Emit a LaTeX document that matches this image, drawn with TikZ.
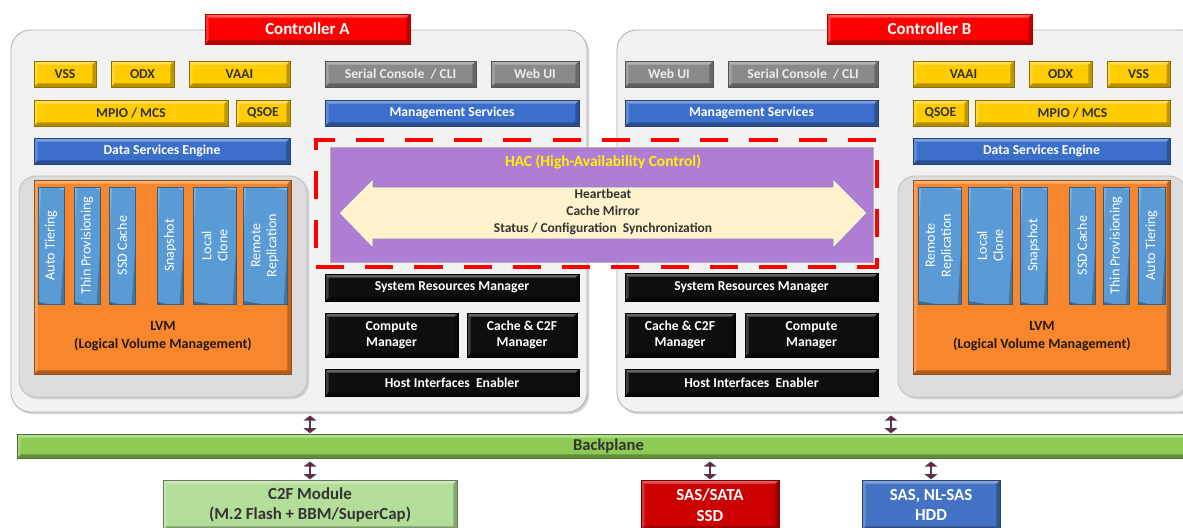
\documentclass[tikz,border=0pt]{standalone}
\usepackage{fontspec}
\setmainfont{Carlito}
\setsansfont{Carlito}
\usetikzlibrary{shadows,arrows.meta}

\definecolor{ctrlred}{HTML}{FF0000}
\definecolor{featyellow}{HTML}{FFCC00}
\definecolor{svcblue}{HTML}{3B6FCB}
\definecolor{uigray}{HTML}{8A8A8A}
\definecolor{mgrblack}{HTML}{0E0E0E}
\definecolor{lvmorange}{HTML}{F7862C}
\definecolor{volblue}{HTML}{5B9BD5}
\definecolor{hacpurple}{HTML}{B07DD5}
\definecolor{hbcream}{HTML}{FFF2CC}
\definecolor{bpgreen}{HTML}{8DCB55}
\definecolor{c2fgreen}{HTML}{B3DE99}
\definecolor{ssdred}{HTML}{CC0000}
\definecolor{hddblue}{HTML}{4472C4}
\definecolor{panelgray}{HTML}{F2F2F2}
\definecolor{lvmgray}{HTML}{DCDCDC}
\definecolor{linkred}{HTML}{C00000}
\definecolor{linkedge}{HTML}{4A3A5E}

\tikzset{
	bevel/.style={path picture={
		\fill[white,opacity=0.35] (path picture bounding box.north west) -- (path picture bounding box.north east)
			-- ([xshift=-2.5pt,yshift=-2.5pt]path picture bounding box.north east) -- ([xshift=2.5pt,yshift=-2.5pt]path picture bounding box.north west) -- cycle;
		\fill[white,opacity=0.2] (path picture bounding box.north west) -- (path picture bounding box.south west)
			-- ([xshift=2.5pt,yshift=2.5pt]path picture bounding box.south west) -- ([xshift=2.5pt,yshift=-2.5pt]path picture bounding box.north west) -- cycle;
		\fill[black,opacity=0.3] (path picture bounding box.south west) -- (path picture bounding box.south east)
			-- ([xshift=-2.5pt,yshift=2.5pt]path picture bounding box.south east) -- ([xshift=2.5pt,yshift=2.5pt]path picture bounding box.south west) -- cycle;
		\fill[black,opacity=0.25] (path picture bounding box.north east) -- (path picture bounding box.south east)
			-- ([xshift=-2.5pt,yshift=2.5pt]path picture bounding box.south east) -- ([xshift=-2.5pt,yshift=-2.5pt]path picture bounding box.north east) -- cycle;
	}},
	block/.style={inner sep=0pt, outer sep=0pt, align=center, bevel,
		drop shadow={shadow xshift=1pt, shadow yshift=-1pt, opacity=0.35}},
	ctrlbox/.style={block, fill=ctrlred, draw=ctrlred!70!black, text=white, font=\sffamily\bfseries\fontsize{12}{14}\selectfont},
	featbox/.style={block, fill=featyellow, draw=featyellow!55!black, text=black!80},
	svcbox/.style={block, fill=svcblue, draw=svcblue!60!black, text=white},
	uibox/.style={block, fill=uigray, draw=uigray!60!black, text=black!8},
	mgrbox/.style={block, fill=mgrblack, draw=black, text=white},
	volbox/.style={block, rotate=90, fill=volblue, draw=volblue!60!black, text=white, font=\sffamily\fontsize{10}{11.5}\selectfont},
	lvmbox/.style={block, fill=lvmorange, draw=lvmorange!60!black},
	panel/.style={inner sep=0pt, outer sep=0pt, fill=panelgray, draw=black!30, rounded corners=14pt,
		drop shadow={shadow xshift=1.5pt, shadow yshift=-1.5pt, opacity=0.35}},
	lvmpanel/.style={inner sep=0pt, outer sep=0pt, fill=lvmgray, draw=black!25, rounded corners=12pt,
		drop shadow={shadow xshift=1.5pt, shadow yshift=-1.5pt, opacity=0.3}},
	hacframe/.style={inner sep=0pt, draw=red, line width=3.5pt, dash pattern=on 20pt off 15pt},
	hacbox/.style={inner sep=0pt, fill=hacpurple, draw=black!30,
		drop shadow={shadow xshift=1pt, shadow yshift=-1pt, opacity=0.35}},
	bpbar/.style={block, fill=bpgreen, draw=bpgreen!55!black, text=black!80, font=\sffamily\bfseries\fontsize{11.8}{13}\selectfont},
	diskbox/.style={block, font=\sffamily\bfseries\fontsize{12}{14.5}\selectfont},
	linkarrow/.style={draw=linkedge, line width=1.5pt, shorten <=2.5pt, shorten >=0.5pt,
		{Triangle[fill=linkred, length=3.6pt, width=9pt]}-{Triangle[fill=linkred, length=3.6pt, width=9pt]}},
}

% style, name, x1, y1, x2, y2, text
\newcommand{\compbox}[7]{
	\node[#1, minimum width={(#5-#3)*0.025cm}, minimum height={(#6-#4)*0.025cm}] (#2) at ({(#3+#5)/2},{(#4+#6)/2}) {#7};
}
% name, x1, x2, text
\newcommand{\volume}[4]{
	\node[volbox, minimum width={117*0.025cm}, minimum height={(#3-#2)*0.025cm}] (#1) at ({(#2+#3)/2},245.5) {#4};
}

\begin{document}
\begin{tikzpicture}[x={(0.025cm,0)},y={(0,-0.025cm)},>=latex,font=\sffamily\bfseries\fontsize{9.7}{11}\selectfont,semithick]
	\useasboundingbox[fill=white] (0,0) rectangle (1183,527);

	% controller panels
	\compbox{panel}{ctrlA}{11}{30}{587}{412}{}
	\compbox{panel}{ctrlB}{617}{30}{1200}{412}{}
	\compbox{ctrlbox}{ctrlAlabel}{205}{14}{410}{44}{Controller A}
	\compbox{ctrlbox}{ctrlBlabel}{827}{14}{1032}{44}{Controller B}

	% controller A
	\compbox{featbox}{vssA}{34}{61}{96}{87}{VSS}
	\compbox{featbox}{odxA}{111}{61}{174}{87}{ODX}
	\compbox{featbox}{vaaiA}{189}{61}{290}{87}{VAAI}
	\compbox{featbox}{mpioA}{34}{100}{228}{126}{MPIO / MCS}
	\compbox{featbox}{qsoeA}{236}{100}{290}{126}{QSOE}
	\compbox{svcbox}{dseA}{34}{138}{290}{164}{Data Services Engine}
	\compbox{uibox}{cliA}{325}{61}{476}{87}{Serial Console~ / CLI}
	\compbox{uibox}{webA}{491}{61}{579}{87}{Web UI}
	\compbox{svcbox}{mgmtA}{325}{100}{579}{126}{Management Services}

	\compbox{lvmpanel}{lvmbgA}{19}{176}{307}{397}{}
	\compbox{lvmbox}{lvmA}{34}{180}{291}{374}{}
	\node[text=black!80!brown, align=center, font=\sffamily\bfseries\fontsize{10}{12.5}\selectfont] (lvmAtext) at (163,336) {LVM\\(Logical Volume Management)};
	\volume{autoA}{38}{64}{Auto Tiering}
	\volume{thinA}{74}{100}{Thin Provisioning}
	\volume{ssdA}{109}{135}{SSD Cache}
	\volume{snapA}{157}{183}{Snapshot}
	\volume{cloneA}{193}{236}{Local\\Clone}
	\volume{replA}{243}{287}{Remote\\Replication}

	\compbox{mgrbox}{srmA}{325}{274}{579}{301}{System Resources Manager}
	\compbox{mgrbox}{compA}{325}{313}{458}{357}{Compute\\Manager}
	\compbox{mgrbox}{cacheA}{467}{313}{577}{357}{Cache \& C2F\\Manager}
	\compbox{mgrbox}{hostA}{325}{369}{579}{396}{Host Interfaces~ Enabler}

	% controller B
	\compbox{uibox}{webB}{625}{61}{713}{87}{Web UI}
	\compbox{uibox}{cliB}{728}{61}{878}{87}{Serial Console~ / CLI}
	\compbox{svcbox}{mgmtB}{625}{100}{878}{126}{Management Services}
	\compbox{featbox}{vaaiB}{913}{61}{1014}{87}{VAAI}
	\compbox{featbox}{odxB}{1029}{61}{1092}{87}{ODX}
	\compbox{featbox}{vssB}{1107}{61}{1170}{87}{VSS}
	\compbox{featbox}{qsoeB}{913}{100}{968}{126}{QSOE}
	\compbox{featbox}{mpioB}{975}{100}{1170}{126}{MPIO / MCS}
	\compbox{svcbox}{dseB}{913}{138}{1170}{164}{Data Services Engine}

	\compbox{lvmpanel}{lvmbgB}{898}{176}{1186}{397}{}
	\compbox{lvmbox}{lvmB}{913}{180}{1170}{374}{}
	\node[text=black!80!brown, align=center, font=\sffamily\bfseries\fontsize{10}{12.5}\selectfont] (lvmBtext) at (1042,336) {LVM\\(Logical Volume Management)};
	\volume{replB}{918}{961}{Remote\\Replication}
	\volume{cloneB}{968}{1012}{Local\\Clone}
	\volume{snapB}{1020}{1047}{Snapshot}
	\volume{ssdB}{1069}{1095}{SSD Cache}
	\volume{thinB}{1103}{1129}{Thin Provisioning}
	\volume{autoB}{1138}{1165}{Auto Tiering}

	\compbox{mgrbox}{srmB}{625}{273}{878}{301}{System Resources Manager}
	\compbox{mgrbox}{cacheB}{625}{313}{735}{357}{Cache \& C2F\\Manager}
	\compbox{mgrbox}{compB}{745}{313}{878}{357}{Compute\\Manager}
	\compbox{mgrbox}{hostB}{625}{369}{878}{396}{Host Interfaces~ Enabler}

	% HAC
	\compbox{hacframe}{hacfr}{316}{140}{877}{267}{}
	\compbox{hacbox}{hac}{330}{147}{873}{262}{}
	\node[text=yellow, font=\sffamily\bfseries\fontsize{11}{13}\selectfont] (hactitle) at (603,162) {HAC (High-Availability Control)};
	\filldraw[fill=hbcream, draw=black!40!blue!50, thin] (339,213) -- (373,179) -- (373,187) -- (833,187) -- (833,179) -- (867,213)
		-- (833,248) -- (833,239) -- (373,239) -- (373,248) -- cycle;
	\node[text=black!80, align=center, font=\sffamily\bfseries\fontsize{9.6}{12}\selectfont] (hbtext) at (603,212) {Heartbeat\\Cache Mirror\\Status / Configuration~ Synchronization};

	% backplane and disks
	\compbox{bpbar}{backplane}{17}{434}{1200}{458}{Backplane}
	\compbox{diskbox, fill=c2fgreen, draw=c2fgreen!55!black, text=black!80}{c2f}{163}{480}{457}{530}{C2F Module\\(M.2 Flash + BBM/SuperCap)}
	\compbox{diskbox, fill=ssdred, draw=ssdred!60!black, text=white}{ssd}{641}{480}{779}{530}{SAS/SATA\\SSD}
	\compbox{diskbox, fill=hddblue, draw=hddblue!60!black, text=white}{hdd}{862}{480}{1000}{530}{SAS, NL-SAS\\HDD}

	\coordinate (linkB) at (891,412);
	\draw[linkarrow] (ctrlA.south -| c2f.north) -- (backplane.north -| c2f.north);
	\draw[linkarrow] (ctrlB.south -| linkB) -- (backplane.north -| linkB);
	\draw[linkarrow] (backplane.south -| c2f.north) -- (c2f.north);
	\draw[linkarrow] (backplane.south -| ssd.north) -- (ssd.north);
	\draw[linkarrow] (backplane.south -| hdd.north) -- (hdd.north);
\end{tikzpicture}
\end{document}
